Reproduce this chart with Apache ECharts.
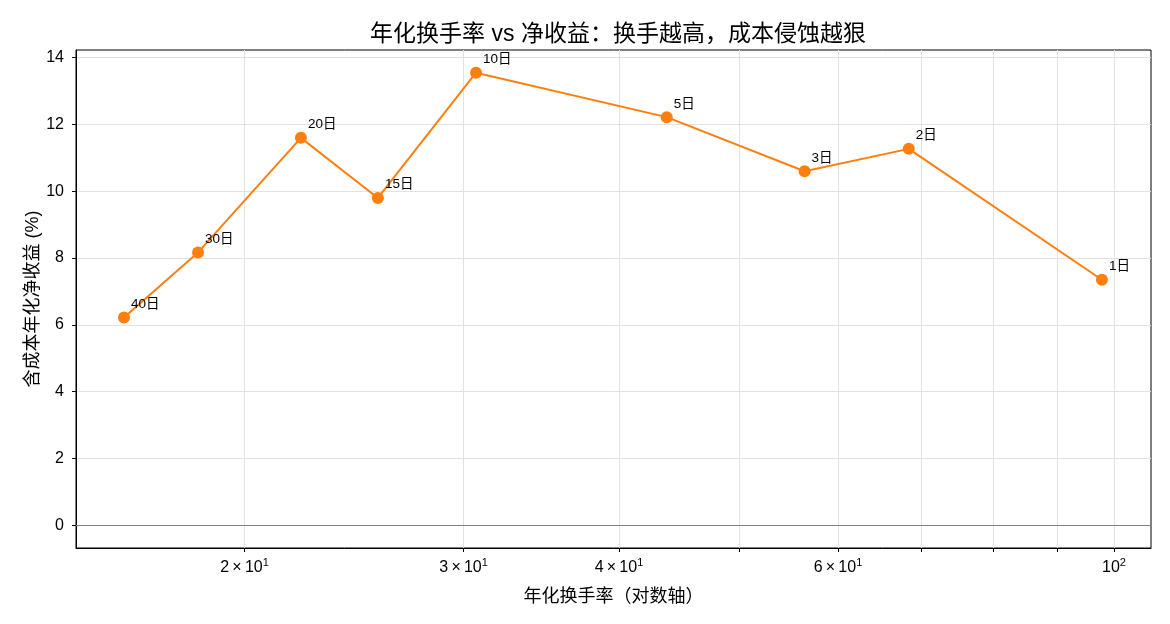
<!DOCTYPE html>
<html>
<head>
<meta charset="utf-8">
<script src="https://cdn.jsdelivr.net/npm/echarts@6/dist/echarts.min.js"></script>
<style>
  html, body { margin: 0; padding: 0; background: #fff; }
  #main { width: 1170px; height: 624px; }
</style>
</head>
<body>
<div id="main"></div>
<script>
// 持有期标签
const holdLabels = ['40日', '30日', '20日', '15日', '10日', '5日', '3日', '2日', '1日']
// 年化换手率（倍）
const turnover = [16.0, 18.35, 22.2, 25.6, 30.7, 43.7, 56.4, 68.4, 97.8]
// 含成本年化净收益 (%)
const netReturn = [6.22, 8.17, 11.6, 9.8, 13.55, 12.22, 10.6, 11.27, 7.35]
// 刻度
const xTicks = [20, 30, 40, 50, 60, 70, 80, 90, 100]
const xTickLabels = [20, 30, 40, 60, 100]
const yTicks = [0, 2, 4, 6, 8, 10, 12, 14]

const font = "'Liberation Sans', 'Noto Sans CJK SC', sans-serif"
const orange = '#ff7f0e'

const chart = echarts.init(document.getElementById('main'), null, { renderer: 'canvas' })

const points = turnover.map((v, i) => ({ value: [v, netReturn[i]], name: holdLabels[i] }))

// 2×10^1 这种写法
const fmtX = (val) => {
  const e = Math.floor(Math.log10(val) + 1e-9)
  const m = Math.round(val / Math.pow(10, e))
  if (m === 1) return '{b|10}{s|' + e + '}'
  return '{b|' + m + '\u2009×\u200910}{s|' + e + '}'
}

const option = {
  animation: false,
  title: {
    text: '年化换手率 vs 净收益：换手越高，成本侵蚀越狠',
    left: 613,
    textAlign: 'center',
    top: 18,
    textStyle: { fontFamily: font, fontSize: 23, fontWeight: 'normal', color: '#000' }
  },
  grid: {
    left: 76, right: 19, top: 50, bottom: 76,
    show: true, borderColor: '#000', borderWidth: 1, backgroundColor: 'transparent'
  },
  xAxis: {
    type: 'log',
    logBase: 10,
    min: 14.64,
    max: 107.1,
    name: '年化换手率（对数轴）',
    nameLocation: 'middle',
    nameGap: 40,
    nameMoveOverlap: false,
    nameTextStyle: { fontFamily: font, fontSize: 18, color: '#000' },
    axisLine: { show: true, onZero: false, lineStyle: { color: '#000', width: 1 } },
    axisTick: { show: true, length: 4, customValues: xTicks, lineStyle: { color: '#000' } },
    axisLabel: {
      customValues: xTickLabels,
      margin: 8,
      formatter: fmtX,
      rich: {
        b: { fontFamily: font, fontSize: 16, lineHeight: 20, color: '#000', verticalAlign: 'bottom' },
        s: { fontFamily: font, fontSize: 11, lineHeight: 12, padding: [0, 0, 8, 0], color: '#000', verticalAlign: 'bottom' }
      }
    },
    splitLine: { show: true, lineStyle: { color: '#e2e2e2', width: 1 } },
    minorTick: { show: false }
  },
  yAxis: {
    type: 'value',
    min: -0.68,
    max: 14.23,
    name: '含成本年化净收益 (%)',
    nameLocation: 'middle',
    nameGap: 34,
    nameMoveOverlap: false,
    nameTextStyle: { fontFamily: font, fontSize: 18, color: '#000' },
    axisLine: { show: true, onZero: false, lineStyle: { color: '#000', width: 1 } },
    axisTick: { show: true, length: 4, customValues: yTicks, lineStyle: { color: '#000' } },
    axisLabel: { customValues: yTicks, margin: 12, fontFamily: font, fontSize: 16, color: '#000' },
    splitLine: { show: true, lineStyle: { color: '#e2e2e2', width: 1 } }
  },
  series: [
    {
      type: 'line',
      data: points,
      symbol: 'circle',
      symbolSize: 12,
      lineStyle: { color: orange, width: 2 },
      itemStyle: { color: orange },
      label: {
        show: true,
        position: [13, -14],
        formatter: (p) => p.name,
        fontFamily: font,
        fontSize: 13.5,
        color: '#000'
      },
      markLine: {
        silent: true,
        symbol: 'none',
        label: { show: false },
        lineStyle: { color: '#808080', type: 'solid', width: 1.2 },
        data: [{ yAxis: 0 }]
      },
      z: 3
    }
  ]
}

chart.setOption(option)
</script>
</body>
</html>
